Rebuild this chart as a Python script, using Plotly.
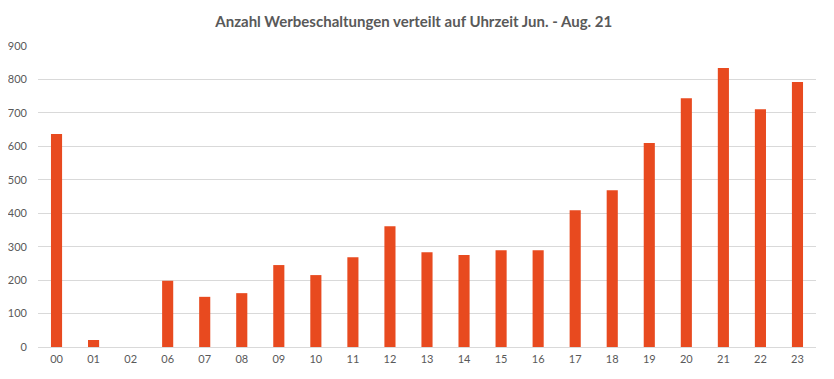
import plotly.graph_objects as go

hours = ["00", "01", "02", "06", "07", "08", "09", "10", "11", "12", "13",
         "14", "15", "16", "17", "18", "19", "20", "21", "22", "23"]
counts = [637, 21, 0, 198, 150, 161, 245, 215, 268, 361, 283,
          275, 289, 289, 409, 469, 610, 744, 834, 711, 792]
title_text = "Anzahl Werbeschaltungen verteilt auf Uhrzeit Jun. - Aug. 21"
y_ticks = list(range(0, 1000, 100))

fig = go.Figure(go.Bar(x=hours, y=counts, marker=dict(color="#E84A1F", line=dict(width=0)),
                       hoverinfo="x+y"))

fig.update_layout(
    width=818, height=363,
    margin=dict(l=30, r=10, t=38, b=24, autoexpand=False),
    paper_bgcolor="white", plot_bgcolor="white",
    bargap=0.7,
    showlegend=False,
    font=dict(family="Lato, Liberation Sans, sans-serif", color="#595959", size=11),
    title=dict(text=title_text, x=0.496, xanchor="center", y=0.961, yanchor="middle",
               font=dict(size=15, color="#595959", family="Lato, sans-serif", weight="bold")),
    xaxis=dict(type="category", showgrid=False, showline=False, ticks="", automargin=False,
               ticklabelstandoff=4, tickfont=dict(size=11, color="#595959")),
    yaxis=dict(range=[0, 900], tickvals=y_ticks, showgrid=True, gridcolor="#D9D9D9",
               gridwidth=1, zeroline=True, zerolinecolor="#D9D9D9", zerolinewidth=1,
               showline=False, ticks="", automargin=False, ticklabelstandoff=10,
               tickfont=dict(size=11, color="#595959")),
)

fig.write_html("out.html")
